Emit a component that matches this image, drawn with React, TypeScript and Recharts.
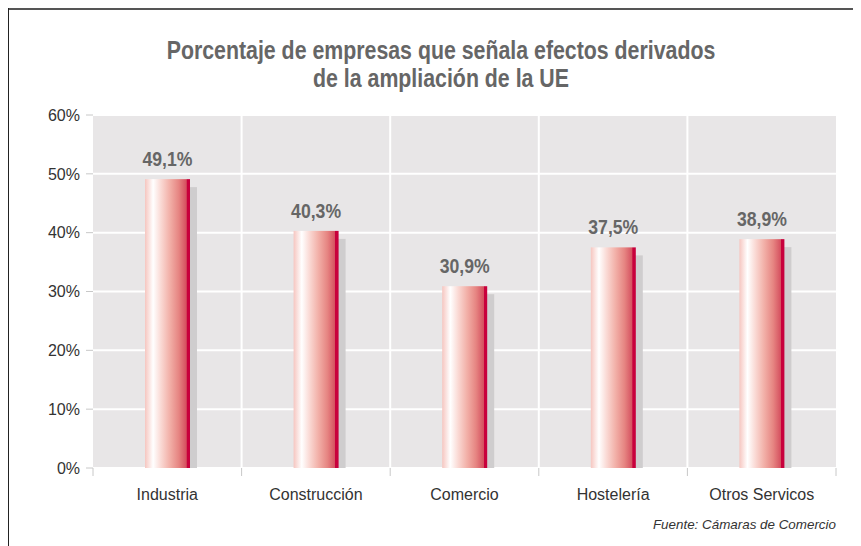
import React from "react";
import { BarChart, Bar, XAxis, YAxis, CartesianGrid, LabelList } from "recharts";

const categories = ["Industria", "Construcción", "Comercio", "Hostelería", "Otros Servicos"];
const values = [49.1, 40.3, 30.9, 37.5, 38.9];
const yTicks = [0, 10, 20, 30, 40, 50, 60];
const titleLines = ["Porcentaje de empresas que señala efectos derivados", "de la ampliación de la UE"];
const sourceText = "Fuente: Cámaras de Comercio";

const data = categories.map((c, i) => ({ name: c, value: values[i] }));

const SANS = '"Liberation Sans", Arial, sans-serif';

const fmt = (v: number) => `${Number(v).toFixed(1).replace(".", ",")}%`;

const BarShape = (props: any) => {
  const { x, y, width, height } = props;
  if (height == null || height <= 0) return null;
  return (
    <g>
      <rect x={x + 7} y={y + 8} width={width} height={Math.max(0, height - 8)} fill="#cfcdce" />
      <rect x={x} y={y} width={width} height={height} fill="url(#barGrad)" />
    </g>
  );
};

const ValueLabel = (props: any) => {
  const { x, y, width, value } = props;
  const cx = x + width / 2;
  const by = y - 13;
  return (
    <text
      transform={`translate(${cx},${by}) scale(0.84,1)`}
      textAnchor="middle"
      fill="#666"
      fontSize={21}
      fontWeight="bold"
      fontFamily={SANS}
    >
      {fmt(value)}
    </text>
  );
};

const XTick = (props: any) => {
  const { x, y, payload, index } = props;
  const half = payload && typeof payload.offset === "number" && payload.offset > 0 ? payload.offset : 74.3;
  return (
    <g>
      <line x1={x - half} x2={x - half} y1={y} y2={y + 8} stroke="#c8c8c8" strokeWidth={1} />
      {index === categories.length - 1 && (
        <line x1={x + half} x2={x + half} y1={y} y2={y + 8} stroke="#c8c8c8" strokeWidth={1} />
      )}
      <text x={x} y={y + 32} textAnchor="middle" fill="#333" fontSize={16} fontFamily={SANS}>
        {payload.value}
      </text>
    </g>
  );
};

export default function App() {
  return (
    <div style={{ position: "relative", width: 853, height: 538, background: "#fff" }}>
      <div style={{ position: "absolute", left: 0, top: 0, width: 853, height: 2, background: "#555" }} />
      <div style={{ position: "absolute", left: 0, top: 0, width: 1, height: 538, background: "#222" }} />
      <div
        style={{
          position: "absolute",
          left: 0,
          top: 28,
          width: 866,
          textAlign: "center",
          fontFamily: SANS,
          fontWeight: "bold",
          fontSize: 26,
          lineHeight: "28px",
          color: "#666",
          transform: "scaleX(0.82)",
          transformOrigin: "433px 0",
        }}
      >
        {titleLines.map((t, i) => (
          <div key={i}>{t}</div>
        ))}
      </div>
      <BarChart
        width={853}
        height={538}
        data={data}
        margin={{ top: 107, right: 25, left: 0, bottom: 48 }}
      >
        <defs>
          <linearGradient id="barGrad" x1="0" y1="0" x2="1" y2="0">
            <stop offset="0%" stopColor="#f6c6c0" />
            <stop offset="18%" stopColor="#ffffff" />
            <stop offset="35%" stopColor="#fadad5" />
            <stop offset="55%" stopColor="#f2b0a8" />
            <stop offset="75%" stopColor="#e68582" />
            <stop offset="92%" stopColor="#d5505f" />
            <stop offset="93%" stopColor="#c8003c" />
            <stop offset="100%" stopColor="#c8003c" />
          </linearGradient>
        </defs>
        <CartesianGrid
          fill="#e8e6e7"
          fillOpacity={1}
          stroke="#ffffff"
          strokeWidth={2}
          verticalCoordinatesGenerator={(p: any) => {
            const off = p.offset;
            return [1, 2, 3, 4].map((i) => off.left + (i * off.width) / categories.length);
          }}
        />
        <XAxis
          dataKey="name"
          axisLine={false}
          tickLine={false}
          tickSize={0}
          tickMargin={0}
          height={30}
          interval={0}
          tick={<XTick />}
        />
        <YAxis
          width={85}
          domain={[0, 60]}
          ticks={yTicks}
          tickFormatter={(v: number) => `${v}%`}
          axisLine={false}
          tickLine={{ stroke: "#c8c8c8" }}
          tickSize={7}
          tickMargin={6}
          tick={{ fill: "#333", fontSize: 16, fontFamily: SANS }}
          interval={0}
        />
        <Bar dataKey="value" barSize={45} shape={<BarShape />} isAnimationActive={false}>
          <LabelList dataKey="value" content={<ValueLabel />} />
        </Bar>
      </BarChart>
      <div
        style={{
          position: "absolute",
          right: 25,
          top: 509,
          fontFamily: SANS,
          fontStyle: "italic",
          fontSize: 13.4,
          lineHeight: "16px",
          color: "#333",
          whiteSpace: "nowrap",
        }}
      >
        {sourceText}
      </div>
    </div>
  );
}
